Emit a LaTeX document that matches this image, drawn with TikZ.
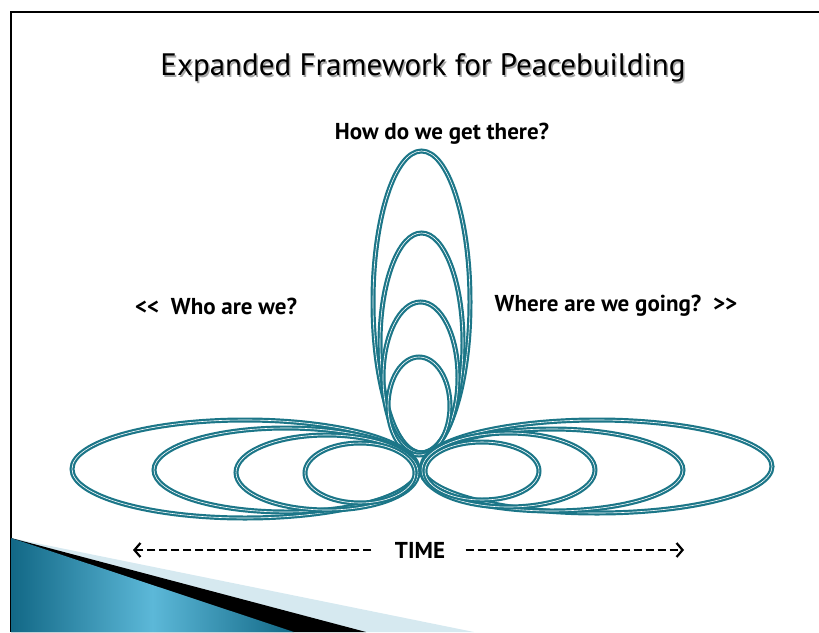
\documentclass[tikz,border=0pt]{standalone}
\usepackage{fontspec}
\setmainfont{PT Sans}
\usetikzlibrary{arrows.meta}

\definecolor{petal}{RGB}{28,118,136}
\definecolor{wedgepale}{RGB}{214,233,240}
\definecolor{wedgedeep}{RGB}{18,104,134}
\definecolor{wedgesky}{RGB}{92,184,216}

\begin{document}
\begin{tikzpicture}[x=1pt,y=-1pt,
    petal/.style={draw=petal, double=white, double distance=0.6pt, line width=2.2pt},
    timearrow/.style={line width=2.2pt, dash pattern=on 8pt off 4pt,
        -{Straight Barb[length=6pt,width=14pt]}},
    question/.style={font=\bfseries\fontsize{23}{27}\selectfont}]
    \useasboundingbox (0,0) rectangle (819,632);

    % Frame
    \draw[line width=1.8pt] (11,632) -- (11,12) -- (819,12);

    % Corner wedges
    \fill[wedgepale] (11,538) -- (474,632) -- (11,632) -- cycle;
    \fill[black] (11,538) -- (366,632) -- (11,632) -- cycle;
    \shade[left color=wedgedeep, right color=wedgedeep, middle color=wedgesky]
        (11,538) -- (294,632) -- (11,632) -- cycle;

    % Title with shadow
    \node[font=\fontsize{31}{36}\selectfont, text=black!35] at (424.5,69.5) {Expanded Framework for Peacebuilding};
    \node[font=\fontsize{31}{36}\selectfont] (title) at (423,68) {Expanded Framework for Peacebuilding};

    % Petals: up, left, right
    \foreach \cx/\cy/\rx/\ry in {421.5/302/48.5/151, 421.5/343/41.5/110, 420.5/377.5/37.5/75.5, 419/406/31/49}
        \draw[petal] (\cx,\cy) ellipse[x radius=\rx, y radius=\ry];
    \foreach \cx/\cy/\rx/\ry in {245/469/173/49, 286/470/132/42, 327/472.5/91/37.5, 360/473/55/30}
        \draw[petal] (\cx,\cy) ellipse[x radius=\rx, y radius=\ry];
    \foreach \cx/\cy/\rx/\ry in {597/466.5/175/46.5, 552/470/131/41, 508.5/470/86.5/37, 482/471/57/29}
        \draw[petal] (\cx,\cy) ellipse[x radius=\rx, y radius=\ry];

    % Questions
    \node[question] (how) at (442,134) {How do we get there?};
    \node[question] (who) at (216,306) {{<}{<}\ \ Who are we?};
    \node[question] (where) at (616,306) {Where are we going?\ \ {>}{>}};

    % Time axis
    \node[question] (time) at (420,550) {TIME};
    \coordinate (past) at (133,550);
    \coordinate (future) at (684,550);
    \draw[timearrow] ([xshift=-20pt]time.west) -- (past);
    \draw[timearrow] ([xshift=17pt]time.east) -- (future);
\end{tikzpicture}
\end{document}
